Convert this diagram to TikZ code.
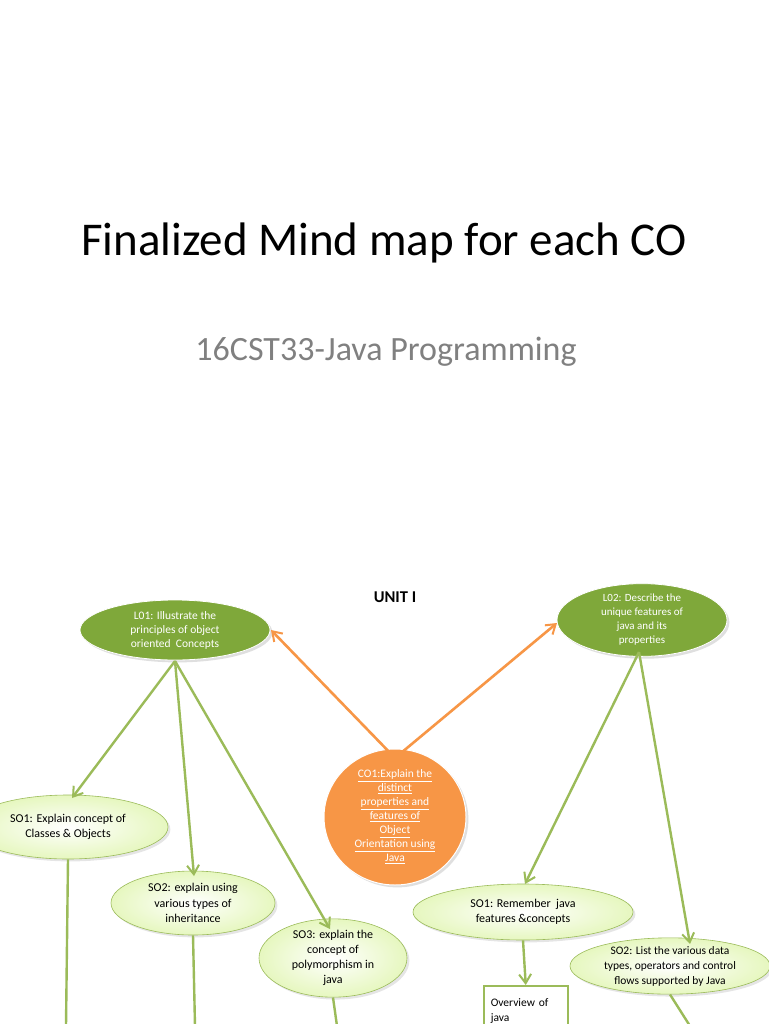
\documentclass[tikz,border=0pt]{standalone}
\usepackage{fontspec}
\setmainfont{Carlito}
\usetikzlibrary{shapes.geometric,arrows.meta,shadows}
\definecolor{dg}{HTML}{7FA83A}
\definecolor{lg}{HTML}{E6F7BF}
\definecolor{ln}{HTML}{9BBB59}
\definecolor{og}{HTML}{F79646}
\begin{document}
\begin{tikzpicture}[x=1pt,y=-1pt,
  lo/.style={ellipse,inner sep=0,fill=dg,draw=white,line width=0.8pt,text=white,font=\fontsize{11.5}{14}\selectfont,align=center,drop shadow={opacity=0.25}},
  so/.style={ellipse,inner sep=0,draw=ln,line width=0.6pt,inner color=white,outer color=lg,font=\fontsize{12}{15.5}\selectfont,align=center,drop shadow={opacity=0.2}},
  gl/.style={draw=ln,line width=2.4pt},
  ga/.style={gl,-{Straight Barb[length=9pt,width=12pt,line width=2pt]}},
  oa/.style={draw=og,line width=2.6pt,-{Straight Barb[length=9pt,width=12pt,line width=2pt]}}]
\useasboundingbox (0,0) rectangle (768,1024);
\fill[white] (0,0) rectangle (768,1024);
\node (title) at (384,243) {\fontsize{47}{54}\selectfont Finalized Mind map for each CO};
\node[text=gray] (sub) at (386,352) {\fontsize{34}{40}\selectfont 16CST33-Java Programming};
\node (unit) at (395,597) {\fontsize{16.5}{18}\selectfont\bfseries UNIT I};
\node[lo,minimum width=190,minimum height=60] (lo1) at (175,630) {L01: Illustrate the\\principles of object\\oriented\ \ Concepts};
\node[lo,minimum width=170,minimum height=60,font=\fontsize{11}{14}\selectfont] (lo2) at (642,620) {L02: Describe the\\unique features of\\java and its\\properties};
\node[ellipse,inner sep=0,fill=og,draw=white,line width=1pt,minimum width=142,minimum height=136,text=white,align=center,font=\fontsize{11.5}{14}\selectfont,drop shadow={opacity=0.25}] (co1) at (395,817) {\underline{CO1:Explain the}\\\underline{distinct}\\\underline{properties and}\\\underline{features of}\\\underline{Object}\\\underline{Orientation using}\\\underline{Java}};
\node[so,minimum width=200,minimum height=64] (sa1) at (68,827) {SO1: Explain concept of\\Classes \& Objects};
\node[so,minimum width=164,minimum height=64] (sa2) at (193,903) {SO2: explain using\\various types of\\inheritance};
\node[so,minimum width=148,minimum height=62,font=\fontsize{12}{15}\selectfont] (sa3) at (333,958) {SO3: explain the\\concept of\\polymorphism in\\java};
\node[so,minimum width=220,minimum height=56] (sb1) at (523,912) {SO1: Remember\ \ java\\features \&concepts};
\node[so,minimum width=200,minimum height=50,font=\fontsize{11.5}{15}\selectfont] (sb2) at (670,966) {SO2: List the various data\\types, operators and control\\flows supported by Java};
\node[draw=ln,line width=1.5pt,fill=white,minimum width=84,minimum height=50,anchor=north west,align=left,font=\fontsize{11.5}{15}\selectfont,inner sep=6pt,text width=70pt] (ov) at (483,985) {Overview of\\java};
\coordinate (lo1b) at (175,661);
\coordinate (lo2b) at (639,652);
\coordinate (cot) at (395,758);
\draw[ga] (lo1b) -- (72,798);
\draw[ga] (lo1b) -- (194,876);
\draw[ga] (lo1b) -- (330,929);
\draw[ga] (lo2b) -- (525,884);
\draw[ga] (lo2b) -- (690,944);
\draw[oa] (cot) -- (271,630);
\draw[oa] (cot) -- (557,623);
\coordinate (e1) at (66,1026);
\coordinate (e2) at (195,1026);
\coordinate (e3) at (337,1026);
\coordinate (e5) at (690,1026);
\draw[gl] (sa1.south) -- (e1);
\draw[gl] (sa2.south) -- (e2);
\draw[gl] (sa3.south) -- (e3);
\draw[gl] (sb2.south) -- (e5);
\draw[ga] (sb1.south) -- (ov.north);
\end{tikzpicture}
\end{document}
